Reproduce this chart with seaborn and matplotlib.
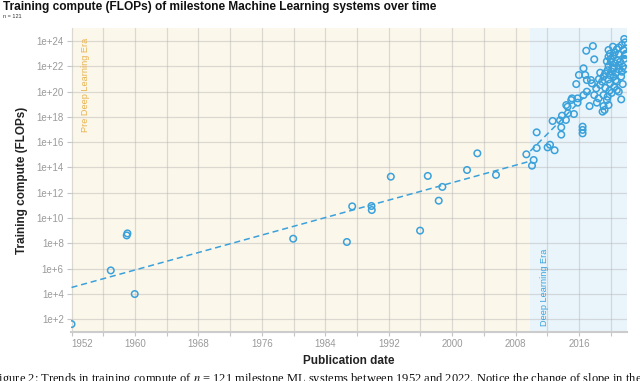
import numpy as np
import pandas as pd
import matplotlib
matplotlib.use("Agg")
import matplotlib.pyplot as plt
import seaborn as sns
from matplotlib.ticker import FixedLocator, FuncFormatter, NullLocator

# publication year and log10(training FLOPs) of each system
pre_dl_year = [1952.0, 1956.95, 1959.05, 1958.96, 1959.97, 1979.95, 1986.72, 1987.39,
               1989.82, 1989.86, 1992.26, 1995.95, 1996.92, 1998.30, 1998.76, 2001.87,
               2003.17, 2005.52, 2009.35]
pre_dl_log_flops = [1.6, 5.85, 8.78, 8.62, 3.98, 8.36, 8.10, 10.92,
                    10.95, 10.63, 13.27, 9.0, 13.33, 11.37, 12.46, 13.80,
                    15.12, 13.41, 15.04]

dl_year = [2010.27, 2010.06, 2010.65, 2010.65, 2012.03, 2012.33, 2012.91, 2012.66,
           2013.59, 2013.75, 2013.75, 2013.84, 2014.34, 2014.59, 2015.35, 2016.44,
           2016.44, 2016.44, 2018.96, 2019.21,
           2021.69, 2019.71, 2020.26, 2020.76, 2021.39, 2021.60, 2020.97, 2020.34,
           2019.71, 2020.01, 2020.55, 2021.18, 2021.52, 2020.97, 2020.34, 2019.71,
           2020.13, 2020.68, 2021.39, 2019.29, 2018.66, 2019.08, 2019.71, 2020.34,
           2019.92, 2020.76, 2020.43, 2019.84, 2020.76, 2021.31, 2019.50, 2019.08,
           2019.71, 2018.45, 2019.08, 2017.91, 2018.16, 2018.66, 2017.61, 2016.98,
           2017.49, 2016.77, 2015.98, 2016.56, 2015.64, 2016.98, 2016.56, 2015.81,
           2015.10, 2014.38, 2014.55, 2015.81, 2015.01, 2016.90, 2017.74, 2017.91,
           2017.32, 2018.24,
           2019.9, 2020.5, 2021.0, 2021.8, 2021.9, 2021.7, 2020.8, 2020.0,
           2019.5, 2019.6, 2020.2, 2021.0, 2021.8, 2021.3, 2020.6, 2019.9,
           2018.9, 2019.3, 2020.1, 2021.5, 2021.0, 2018.5, 2019.6, 2021.8]
dl_log_flops = [14.59, 14.14, 16.78, 15.54, 15.59, 15.80, 15.36, 17.68,
                17.73, 17.18, 16.60, 18.10, 17.76, 18.29, 18.23, 17.23,
                16.97, 16.70, 18.42, 18.55,
                24.17, 23.30, 23.56, 23.35, 23.69, 23.30, 22.98, 22.82,
                22.77, 22.37, 22.24, 22.37, 21.98, 21.77, 21.85, 22.03,
                21.58, 21.50, 21.58, 21.45, 21.50, 21.19, 20.97, 21.19,
                20.66, 20.79, 20.39, 20.08, 20.13, 19.39, 19.34, 18.86,
                18.94, 19.47, 19.73, 19.73, 20.26, 20.53, 20.66, 20.92,
                20.92, 21.32, 21.32, 21.85, 20.60, 20.00, 19.73, 19.47,
                19.47, 18.94, 18.81, 19.13, 19.34, 23.24, 23.61, 22.56,
                18.86, 19.13,
                23.0, 23.1, 23.5, 23.9, 23.0, 22.6, 22.5, 22.6,
                22.4, 21.7, 21.9, 22.1, 21.8, 21.2, 20.9, 21.3,
                20.8, 20.3, 19.9, 20.6, 20.0, 21.0, 19.6, 22.9]

era_names = ["Pre Deep Learning Era", "Deep Learning Era"]
era_bounds = [1952, 2009.85, 2022]

# fitted trends (start / end)
pre_trend_year = [1952, 2009.85]
pre_trend_log_flops = [4.5, 14.5]
dl_trend_year = [2009.85, 2022]
dl_trend_log_flops = [15.3, 22.95]

x_major_years = [1952, 1960, 1968, 1976, 1984, 1992, 2000, 2008, 2016]
x_minor_years = [1956, 1964, 1972, 1980, 1988, 1996, 2004, 2012, 2020]
y_tick_exps = list(range(2, 25, 2))

BLUE = "#3AA1DB"
GOLD = "#E8B24C"
CREAM = "#FCF7EB"
LIGHT_BLUE = "#E9F5FB"
GRID = "#B4B4B4"

systems = pd.DataFrame({
    "year": pre_dl_year + dl_year,
    "flops": 10.0 ** np.array(pre_dl_log_flops + dl_log_flops),
})
pre_trend = pd.DataFrame({"year": pre_trend_year, "flops": 10.0 ** np.array(pre_trend_log_flops)})
dl_trend = pd.DataFrame({"year": dl_trend_year, "flops": 10.0 ** np.array(dl_trend_log_flops)})

sns.set_style("white")
plt.rcParams["font.family"] = ["Liberation Sans", "DejaVu Sans"]
plt.rcParams["mathtext.fontset"] = "stix"

fig = plt.figure(figsize=(6.4, 3.81), dpi=100)
ax = fig.add_axes([0.1105, 0.1278, 0.8687, 0.7987])
ax.set_yscale("log")

ax.axvspan(era_bounds[0], era_bounds[1], color=CREAM, zorder=0.1, lw=0)
ax.axvspan(era_bounds[1], era_bounds[2], color=LIGHT_BLUE, zorder=0.1, lw=0)

sns.lineplot(data=pre_trend, x="year", y="flops", ax=ax, color=BLUE, lw=1.1,
             linestyle=(0, (4, 2.5)), estimator=None, zorder=3)
sns.lineplot(data=dl_trend, x="year", y="flops", ax=ax, color=BLUE, lw=1.1,
             linestyle=(0, (4, 2.5)), estimator=None, zorder=3)
sns.scatterplot(data=systems, x="year", y="flops", ax=ax, s=22, marker="o",
                facecolor="none", edgecolor=BLUE, linewidth=1.1, zorder=4)

ax.set_xlim(1951.9, 2022.0)
ax.set_ylim(10 ** 0.95, 10 ** 25.04)

ax.xaxis.set_major_locator(FixedLocator(x_major_years))
ax.xaxis.set_minor_locator(FixedLocator(x_minor_years))
ax.xaxis.set_major_formatter(FuncFormatter(lambda v, p: f"{int(round(v))}"))
ax.yaxis.set_major_locator(FixedLocator([10.0 ** e for e in y_tick_exps]))
ax.yaxis.set_minor_locator(NullLocator())
ax.yaxis.set_major_formatter(FuncFormatter(lambda v, p: f"1e+{int(round(np.log10(v)))}"))

ax.grid(True, which="both", axis="x", color=GRID, alpha=0.45, lw=0.9)
ax.grid(True, which="major", axis="y", color=GRID, alpha=0.45, lw=0.9)
ax.set_axisbelow(True)

ax.tick_params(axis="both", which="both", length=3, width=0.8, color="#C4C4C4",
               labelcolor="#9A9A9A", labelsize=7, pad=2)
ax.tick_params(axis="x", which="both", bottom=True)
ax.tick_params(axis="y", which="major", left=True)
ax.get_xticklabels()[0].set_horizontalalignment("left")

for side in ["top", "right", "left"]:
    ax.spines[side].set_visible(False)
ax.spines["bottom"].set_color("#CCCCCC")
ax.spines["bottom"].set_linewidth(1.5)

ax.set_xlabel("Publication date", fontsize=8.5, fontweight="bold", color="#222222", labelpad=4)
ax.set_ylabel("Training compute (FLOPs)", fontsize=8.5, fontweight="bold", color="#222222", labelpad=6)

ax.text(1953.8, 10 ** 24.25, era_names[0], rotation=90, ha="center", va="top",
        color=GOLD, fontsize=6.6)
ax.text(2011.65, 10 ** 1.45, era_names[1], rotation=90, ha="center", va="bottom",
        color=BLUE, fontsize=6.6)

fig.text(3 / 640, 1 - 10 / 381, "Training compute (FLOPs) of milestone Machine Learning systems over time",
         fontsize=8.6, fontweight="bold", va="baseline", ha="left", color="#111111")
fig.text(3 / 640, 1 - 17.5 / 381, "n = 121", fontsize=4, va="baseline", ha="left", color="#333333")

fig.text(-0.012, 0.004, "Figure 2: Trends in training compute of $n$ = 121 milestone ML systems between "
         "1952 and 2022. Notice the change of slope in the",
         family=["Liberation Serif", "DejaVu Serif"], fontsize=9, va="center", ha="left", color="#111111")

fig.savefig("out.png", dpi=100)
